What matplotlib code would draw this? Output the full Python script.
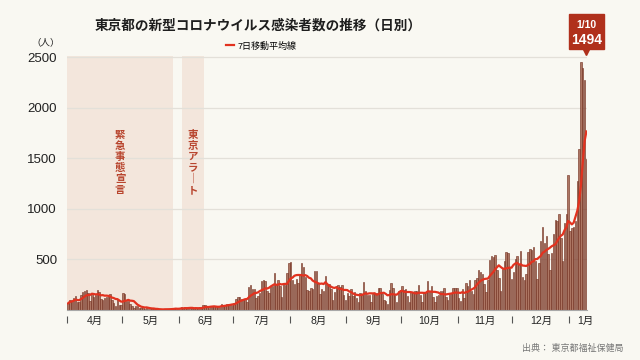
#!/usr/bin/env python3
"""Tokyo daily new COVID-19 cases, Apr 2020 - Jan 2021, with 7-day moving average."""
import numpy as np
import pandas as pd
import matplotlib
matplotlib.use("Agg")
import matplotlib.pyplot as plt
from matplotlib.patches import Rectangle
from matplotlib.transforms import blended_transform_factory

plt.rcParams["font.family"] = ["Liberation Sans", "Noto Sans CJK JP"]

START_DATE = "2020-04-01"

# daily counts, one list per month
APR = [66, 97, 89, 116, 143, 83, 80, 144, 178, 189, 197, 166, 91, 161, 127,
       149, 201, 181, 107, 102, 123, 132, 134, 161, 103, 72, 39, 112, 47, 46]
MAY = [165, 154, 91, 87, 58, 38, 23, 39, 36, 22, 15, 28, 10, 30, 9, 11,
       5, 10, 5, 5, 11, 3, 2, 14, 8, 10, 11, 15, 22, 14, 5]
JUN = [13, 34, 12, 28, 20, 26, 14, 13, 12, 18, 22, 25, 24, 47, 48, 27,
       16, 41, 35, 39, 35, 29, 31, 55, 48, 54, 57, 60, 58, 54]
JUL = [67, 107, 124, 131, 111, 102, 106, 75, 224, 243, 206, 206, 119, 143, 165,
       286, 293, 290, 188, 168, 237, 238, 366, 260, 295, 239, 131, 266, 250, 367, 463]
AUG = [472, 292, 258, 309, 263, 360, 462, 429, 331, 197, 188, 222, 206, 389, 385,
       260, 161, 207, 186, 339, 258, 256, 212, 95, 182, 236, 250, 226, 247, 148, 100]
SEP = [170, 141, 211, 136, 181, 116, 77, 170, 149, 276, 187, 146, 146, 80, 163,
       163, 172, 220, 218, 161, 98, 88, 59, 195, 270, 218, 148, 78, 191, 194]
OCT = [235, 196, 207, 143, 78, 177, 170, 186, 187, 249, 146, 78, 166, 177, 284,
       185, 235, 132, 78, 139, 150, 185, 186, 215, 124, 102, 158, 171, 221, 215, 214]
NOV = [116, 87, 209, 122, 269, 242, 294, 189, 157, 293, 317, 393, 374, 352, 255,
       180, 298, 493, 534, 522, 539, 391, 314, 186, 401, 481, 570, 561, 418, 311]
DEC = [372, 500, 533, 449, 584, 327, 299, 352, 572, 602, 595, 621, 480, 305, 460,
       678, 822, 664, 736, 556, 392, 563, 748, 888, 884, 949, 708, 481, 856, 944, 1337]
JAN = [783, 814, 816, 884, 1278, 1591, 2447, 2392, 2268, 1494]

MONTH_LABELS = ["4月", "5月", "6月", "7月", "8月", "9月", "10月", "11月", "12月", "1月"]
Y_TICKS = [500, 1000, 1500, 2000, 2500]

# shaded periods (as drawn in the source chart)
PERIODS = [
    ("緊急事態宣言", "2020-04-01", "2020-05-28"),
    ("東京アラート", "2020-06-03", "2020-06-14"),
]

TITLE = "東京都の新型コロナウイルス感染者数の推移（日別）"
SOURCE = "出典： 東京都福祉保健局"

BG = "#f9f8f2"
SHADE = "#f3e6dc"
BAR_FACE = "#ad7663"
BAR_EDGE = "#6e2a1a"
LINE_RED = "#e2321f"
BOX_RED = "#b0301c"
LABEL_RED = "#b8452e"


def main():
    cases = APR + MAY + JUN + JUL + AUG + SEP + OCT + NOV + DEC + JAN
    dates = pd.date_range(START_DATE, periods=len(cases), freq="D")
    x = np.arange(len(cases))
    ma = pd.Series(cases).rolling(7, min_periods=1).mean()

    fig = plt.figure(figsize=(6.4, 3.6), dpi=100, facecolor=BG)
    ax = fig.add_axes([67.2 / 640, 50 / 360, 520.3 / 640, 254 / 360], facecolor=BG)

    for label, start, end in PERIODS:
        s = (pd.Timestamp(start) - dates[0]).days
        e = (pd.Timestamp(end) - dates[0]).days
        ax.axvspan(s - 0.5, e + 0.5, color=SHADE, lw=0, zorder=0)
        ax.text((s + e) / 2, 1460, "\n".join(label.replace("ー", "｜")),
                ha="center", va="center", fontsize=7.5, color=LABEL_RED,
                fontweight="bold", linespacing=1.12, zorder=1)

    ax.bar(x, cases, width=0.78, color=BAR_FACE, edgecolor=BAR_EDGE, lw=0.4, zorder=2)
    line, = ax.plot(x, ma, color=LINE_RED, lw=1.6, zorder=3)

    ax.set_xlim(-0.5, len(cases) - 0.4)
    ax.set_ylim(0, 2510)
    ax.set_yticks(Y_TICKS)
    ax.set_yticklabels([str(v) for v in Y_TICKS])
    ax.grid(axis="y", color="#e3e0d9", lw=0.9, zorder=1)
    ax.set_axisbelow(True)
    for side in ["top", "right", "left"]:
        ax.spines[side].set_visible(False)
    ax.spines["bottom"].set_color("#a8a8a8")
    ax.spines["bottom"].set_linewidth(0.8)
    ax.tick_params(axis="y", length=0, pad=7.3, labelsize=9.5, labelcolor="#222222")

    # month boundaries and labels
    month_starts = [i for i, d in enumerate(dates) if d.day == 1]
    bounds = month_starts + [len(cases)]
    label_pos = [(bounds[i] + bounds[i + 1]) / 2 - 0.5 for i in range(len(month_starts))]
    label_pos[-1] = len(cases) - 1.5
    ax.set_xticks(label_pos)
    ax.set_xticklabels(MONTH_LABELS)
    ax.tick_params(axis="x", length=0, pad=4.5, labelsize=7.5, labelcolor="#222222")
    ax.vlines([b - 0.5 for b in month_starts], -0.052, -0.024, color="#555555", lw=0.8,
              transform=ax.get_xaxis_transform(), clip_on=False)

    # callout for the latest day
    trans = blended_transform_factory(ax.transData, ax.transAxes)
    last = len(cases) - 1
    ax.add_patch(Rectangle((last - 9.6, 1.026), 19.2, 0.138, transform=trans,
                           color=BOX_RED, clip_on=False, zorder=5))
    ax.plot([last], [1.016], marker="v", ms=4.5, color=BOX_RED, transform=trans,
            clip_on=False, zorder=5)
    ax.text(last, 1.124, f"{dates[-1].month}/{dates[-1].day}", transform=trans,
            ha="center", va="center", color="white", fontsize=7.5, fontweight="bold", zorder=6)
    ax.text(last, 1.064, f"{cases[-1]}", transform=trans,
            ha="center", va="center", color="white", fontsize=10, fontweight="bold", zorder=6)

    fig.text(0.403, 0.928, TITLE, ha="center", va="center", fontsize=9.8,
             fontweight="bold", color="#1e1e1e")
    fig.text(0.071, 0.883, "（人）", ha="center", va="center", fontsize=6.8, color="#222222")
    fig.text(0.975, 0.031, SOURCE, ha="right", va="center", fontsize=6.5, color="#777777")

    ax.legend([line], ["7日移動平均線"], loc="center", bbox_to_anchor=(0.408, 1 - 46 / 360),
              bbox_transform=fig.transFigure, frameon=False, fontsize=6.5,
              handlelength=0.9, handletextpad=0.35)

    fig.savefig("out.png", dpi=100, facecolor=BG)
    plt.close(fig)


if __name__ == "__main__":
    main()
